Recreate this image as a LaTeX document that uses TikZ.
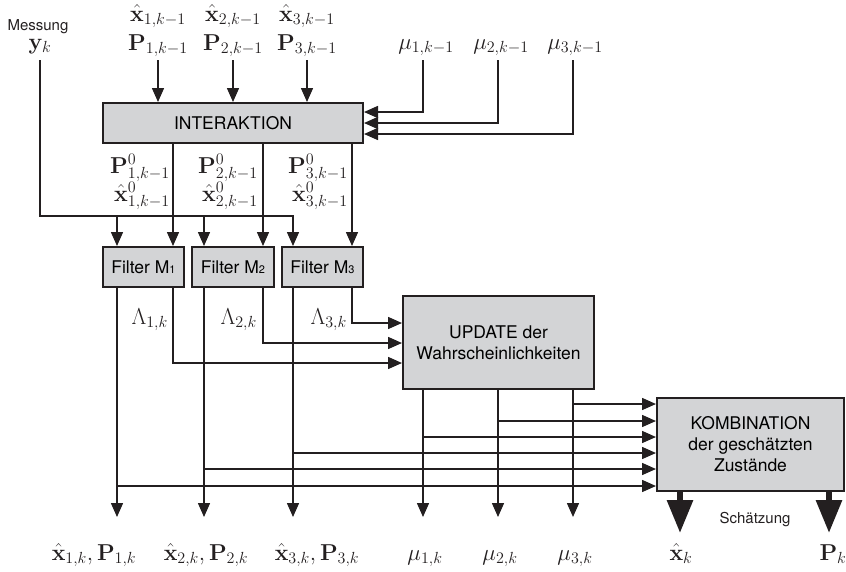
\RequirePackage{fix-cm}
\documentclass[tikz,border=0pt]{standalone}
\usepackage[no-math]{fontspec}
\newfontfamily\hv{TeX Gyre Heros}
\usetikzlibrary{arrows.meta,calc}
\definecolor{boxgray}{HTML}{D3D4D6}
\definecolor{ink}{HTML}{231F20}
\newcommand\msub[1]{{\fontsize{11}{11}\selectfont\raisebox{-0.5pt}{#1}}}
\begin{document}
\begin{tikzpicture}[x=1pt,y=-1pt,
  box/.style={draw=ink, line width=2pt, fill=boxgray, inner sep=0pt, align=center,
    font=\hv\fontsize{17.5}{21}\selectfont},
  ln/.style={line width=1.5pt, draw=ink},
  arr/.style={ln, -{Triangle[length=14pt,width=12pt]}},
  big/.style={line width=6pt, draw=ink, -{Triangle[length=33pt,width=25pt]}},
  lab/.style={font=\fontsize{23}{26}\selectfont, inner sep=0pt, text=ink},
  txt/.style={font=\hv\fontsize{15}{18}\selectfont, inner sep=0pt, text=ink},
]
\useasboundingbox (0,0) rectangle (846,571);

% boxes
\node[box, minimum width=260pt, minimum height=40pt] (int) at (233,123) {INTERAKTION};
\node[box, minimum width=81pt, minimum height=40pt] (f1) at (143.5,267) {Filter M\msub{1}};
\node[box, minimum width=82pt, minimum height=40pt] (f2) at (233,267) {Filter M\msub{2}};
\node[box, minimum width=81pt, minimum height=40pt] (f3) at (322.5,267) {Filter M\msub{3}};
\node[box, minimum width=191pt, minimum height=93pt] (upd) at (498.5,342.5) {UPDATE der\\Wahrscheinlichkeiten};
\node[box, minimum width=187pt, minimum height=93pt] (komb) at (750.5,444.5) {KOMBINATION\\der geschätzten\\Zustände};

% top labels
\node[txt, anchor=base] (mess) at (38,30) {Messung};
\node[lab, anchor=base] (yk) at (40,49) {$\mathbf{y}_k$};
\node[lab, anchor=base] (xa1) at (158,21) {$\hat{\mathbf{x}}_{1,k-1}$};
\node[lab, anchor=base] (pa1) at (158,50) {$\mathbf{P}_{1,k-1}$};
\node[lab, anchor=base] (xa2) at (233,21) {$\hat{\mathbf{x}}_{2,k-1}$};
\node[lab, anchor=base] (pa2) at (233,50) {$\mathbf{P}_{2,k-1}$};
\node[lab, anchor=base] (xa3) at (307,21) {$\hat{\mathbf{x}}_{3,k-1}$};
\node[lab, anchor=base] (pa3) at (307,50) {$\mathbf{P}_{3,k-1}$};
\node[lab, anchor=base] (mu1) at (426,49) {$\mu_{1,k-1}$};
\node[lab, anchor=base] (mu2) at (501,49) {$\mu_{2,k-1}$};
\node[lab, anchor=base] (mu3) at (575,49) {$\mu_{3,k-1}$};

% interaction outputs labels
\node[lab, anchor=base east] (p01) at (170,173) {$\mathbf{P}^0_{1,k-1}$};
\node[lab, anchor=base east] (x01) at (170,201) {$\hat{\mathbf{x}}^0_{1,k-1}$};
\node[lab, anchor=base east] (p02) at (258,173) {$\mathbf{P}^0_{2,k-1}$};
\node[lab, anchor=base east] (x02) at (258,201) {$\hat{\mathbf{x}}^0_{2,k-1}$};
\node[lab, anchor=base east] (p03) at (348,173) {$\mathbf{P}^0_{3,k-1}$};
\node[lab, anchor=base east] (x03) at (348,201) {$\hat{\mathbf{x}}^0_{3,k-1}$};

% Lambda labels
\node[lab, anchor=base east] (l1lab) at (168,324) {$\Lambda_{1,k}$};
\node[lab, anchor=base east] (l2lab) at (257,324) {$\Lambda_{2,k}$};
\node[lab, anchor=base east] (l3lab) at (347,324) {$\Lambda_{3,k}$};

% bottom labels
\node[lab, anchor=base] (o1) at (94,560) {$\hat{\mathbf{x}}_{1,k},\mathbf{P}_{1,k}$};
\node[lab, anchor=base] (o2) at (206,560) {$\hat{\mathbf{x}}_{2,k},\mathbf{P}_{2,k}$};
\node[lab, anchor=base] (o3) at (317,560) {$\hat{\mathbf{x}}_{3,k},\mathbf{P}_{3,k}$};
\node[lab, anchor=base] (om1) at (425,560) {$\mu_{1,k}$};
\node[lab, anchor=base] (om2) at (500,560) {$\mu_{2,k}$};
\node[lab, anchor=base] (om3) at (575,560) {$\mu_{3,k}$};
\node[lab, anchor=base] (oxk) at (681,560) {$\hat{\mathbf{x}}_k$};
\node[lab, anchor=base] (opk) at (833,560) {$\mathbf{P}_k$};
\node[txt, anchor=base] (sch) at (755,523) {Schätzung};

% coordinates
\coordinate (ytop) at (40,60);
\coordinate (in1) at (158,60);
\coordinate (in2) at (233,60);
\coordinate (in3) at (307,60);
\coordinate (m1) at (423,60);
\coordinate (m2) at (498,60);
\coordinate (m3) at (573,60);
\coordinate (h1) at (0,112);
\coordinate (h2) at (0,123);
\coordinate (h3) at (0,134);
\coordinate (yl) at (0,216);
\coordinate (a1) at (117,0);
\coordinate (a2) at (204,0);
\coordinate (a3) at (293,0);
\coordinate (b1) at (173,0);
\coordinate (b2) at (263,0);
\coordinate (b3) at (352,0);
\coordinate (u1) at (423,0);
\coordinate (u2) at (498,0);
\coordinate (u3) at (573,0);
\coordinate (l1) at (0,363);
\coordinate (l2) at (0,343);
\coordinate (l3) at (0,323);
\coordinate (k1) at (0,404);
\coordinate (k2) at (0,421);
\coordinate (k3) at (0,437);
\coordinate (k4) at (0,453);
\coordinate (k5) at (0,469);
\coordinate (k6) at (0,486);
\coordinate (bot) at (0,517);
\coordinate (c1) at (680,0);
\coordinate (c2) at (829,0);
\coordinate (bt) at (0,533);

% inputs into interaction
\draw[arr] (in1) -- (in1 |- int.north);
\draw[arr] (in2) -- (in2 |- int.north);
\draw[arr] (in3) -- (in3 |- int.north);
\draw[arr] (m1) |- (int.east |- h1);
\draw[arr] (m2) |- (int.east |- h2);
\draw[arr] (m3) |- (int.east |- h3);

% measurement
\draw[arr] (ytop) |- (a3 |- yl) -- (a3 |- f3.north);
\draw[arr] (a1 |- yl) -- (a1 |- f1.north);
\draw[arr] (a2 |- yl) -- (a2 |- f2.north);

% interaction to filters
\draw[arr] (b1 |- int.south) -- (b1 |- f1.north);
\draw[arr] (b2 |- int.south) -- (b2 |- f2.north);
\draw[arr] (b3 |- int.south) -- (b3 |- f3.north);

% filter state outputs
\draw[arr] (a1 |- f1.south) -- (a1 |- bot);
\draw[arr] (a2 |- f2.south) -- (a2 |- bot);
\draw[arr] (a3 |- f3.south) -- (a3 |- bot);

% likelihoods
\draw[arr] (b1 |- f1.south) |- (upd.west |- l1);
\draw[arr] (b2 |- f2.south) |- (upd.west |- l2);
\draw[arr] (b3 |- f3.south) |- (upd.west |- l3);

% update outputs
\draw[arr] (u1 |- upd.south) -- (u1 |- bot);
\draw[arr] (u2 |- upd.south) -- (u2 |- bot);
\draw[arr] (u3 |- upd.south) -- (u3 |- bot);

% into combination
\draw[arr] (u3 |- k1) -- (komb.west |- k1);
\draw[arr] (u2 |- k2) -- (komb.west |- k2);
\draw[arr] (u1 |- k3) -- (komb.west |- k3);
\draw[arr] (a3 |- k4) -- (komb.west |- k4);
\draw[arr] (a2 |- k5) -- (komb.west |- k5);
\draw[arr] (a1 |- k6) -- (komb.west |- k6);

% estimates
\draw[big] (c1 |- komb.south) -- (c1 |- bt);
\draw[big] (c2 |- komb.south) -- (c2 |- bt);
\end{tikzpicture}
\end{document}
